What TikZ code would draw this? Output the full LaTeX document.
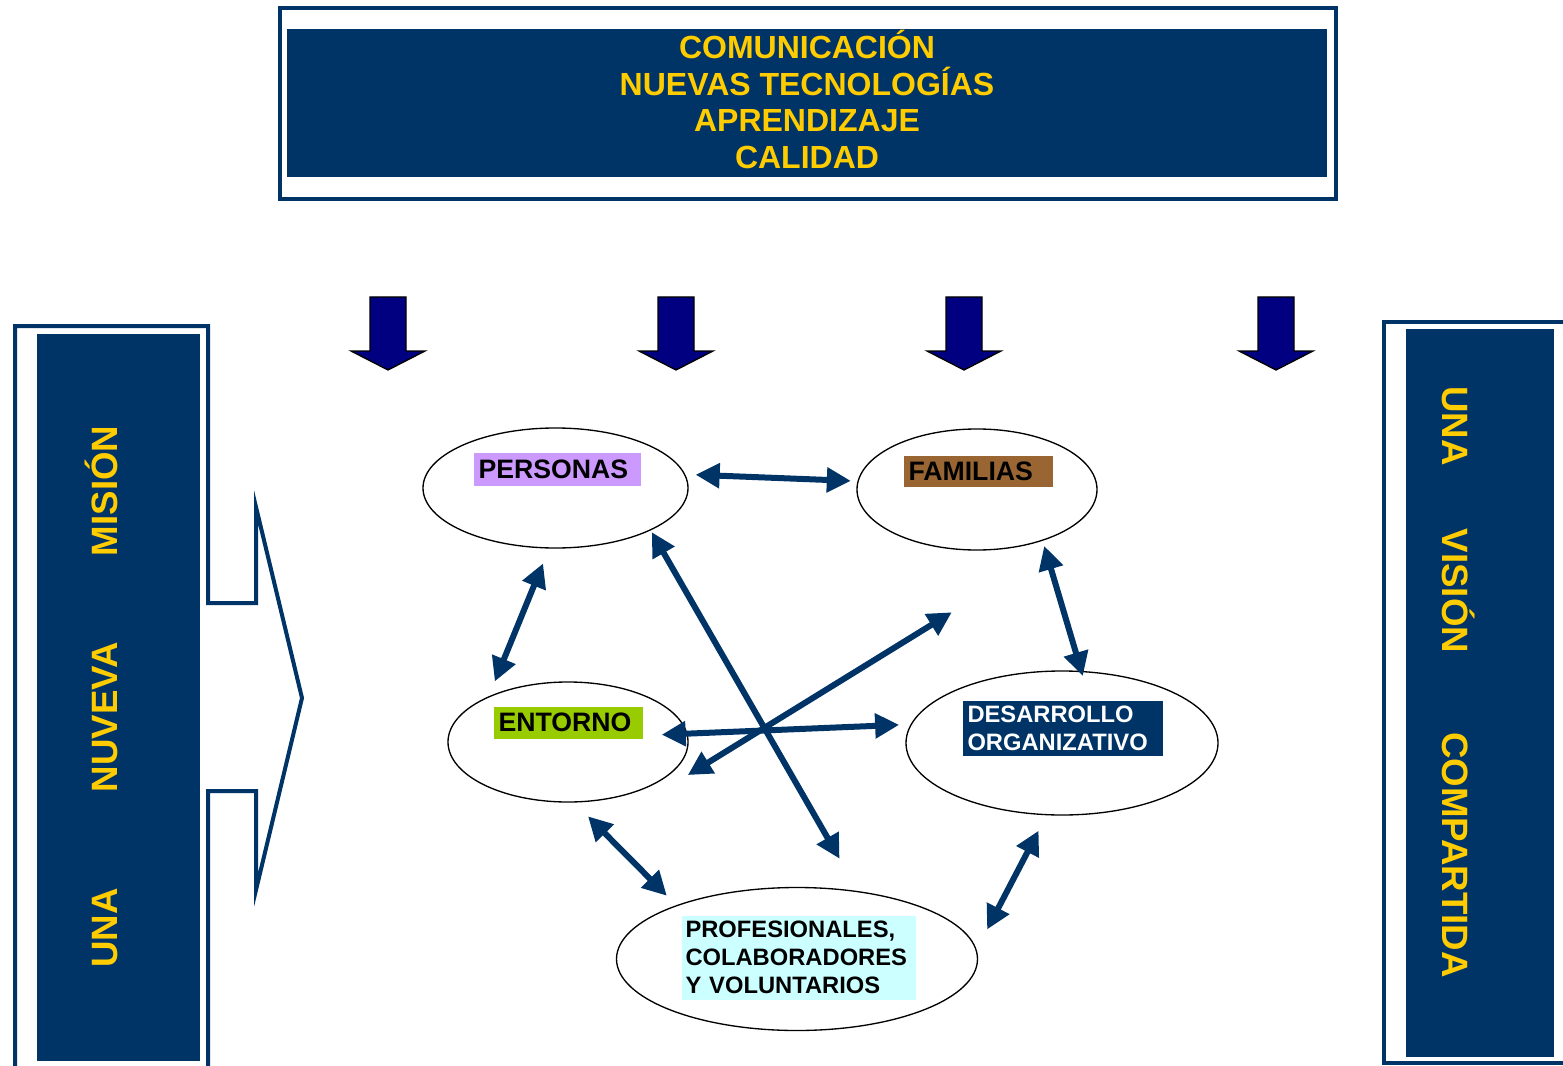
\documentclass[tikz,border=0pt]{standalone}
\usepackage{fontspec}
\setmainfont{Liberation Sans}
\usetikzlibrary{shapes.geometric,arrows.meta,calc}

\definecolor{deepblue}{RGB}{0,51,102}
\definecolor{arrowblue}{RGB}{0,0,128}
\definecolor{yel}{RGB}{255,204,0}
\definecolor{lilac}{RGB}{204,153,255}
\definecolor{brownbox}{RGB}{153,102,51}
\definecolor{limebox}{RGB}{153,204,0}
\definecolor{cyanbox}{RGB}{204,255,255}

\tikzset{every picture/.style={line width=0.75pt}}
\tikzset{
  ell/.style={ellipse, draw=black, line width=1pt, inner sep=0pt},
  lab/.style={anchor=north west, inner xsep=3.75pt, inner ysep=0pt, align=left, font=\bfseries\fontsize{20}{24}\selectfont},
  twolab/.style={lab, font=\bfseries\fontsize{17.8}{21}\selectfont},
  link/.style={draw=deepblue, line width=4.5pt, {Triangle[length=18pt,width=18pt]}-{Triangle[length=18pt,width=18pt]}},
  toptext/.style={text=yel, font=\bfseries\fontsize{24}{28}\selectfont, inner sep=0pt, anchor=base},
  paneltext/.style={text=yel, font=\bfseries\fontsize{27.5}{33}\selectfont, inner sep=0pt, anchor=base},
}

\begin{document}
\begin{tikzpicture}[x=0.75pt,y=0.75pt,yscale=-1,xscale=1]
\useasboundingbox (0,0) rectangle (1563,1066);
\clip (0,0) rectangle (1563,1066);

%Top banner
\draw [deepblue, line width=3pt] (280,8) rectangle (1336,199);
\fill [deepblue] (287,29) rectangle (1327,177);
\foreach \txt [count=\i] in {COMUNICACIÓN,NUEVAS TECNOLOGÍAS,APRENDIZAJE,CALIDAD}
  \node [toptext] (top\i) at (807,{58.5+36.67*(\i-1)}) {\txt};

%Block arrows
\foreach \x in {388,676,964,1276}
  \draw [fill=arrowblue, line width=1pt] (\x-18,297) -- (\x+18,297) -- (\x+18,351) -- (\x+37,351) -- (\x,370) -- (\x-37,351) -- (\x-18,351) -- cycle;

%Left panel
\fill [deepblue] (37,334) rectangle (200,1061);
\draw [deepblue, line width=3pt] (15,1080) -- (15,326) -- (208,326) -- (208,603) -- (256,603) -- (256,507) -- (302,698) -- (256,890) -- (256,791) -- (208,791) -- (208,1080);
\node [paneltext, rotate=90] (mision) at (117,491) {MISIÓN};
\node [paneltext, rotate=90] (nuveva) at (117,717) {NUVEVA};
\node [paneltext, rotate=90] (unaL) at (117,928) {UNA};

%Right panel
\fill [deepblue] (1406,329) rectangle (1554,1057);
\draw [deepblue, line width=3pt] (1600,322) -- (1384,322) -- (1384,1063) -- (1600,1063);
\node [paneltext, rotate=-90] (unaR) at (1442,426) {UNA};
\node [paneltext, rotate=-90] (vision) at (1442,591) {VISIÓN};
\node [paneltext, rotate=-90] (compartida) at (1442,855) {COMPARTIDA};

%Ellipses
\node [ell, minimum width=198.75pt, minimum height=90pt] (pers) at (555.5,488) {};
\node [ell, minimum width=180pt, minimum height=90.75pt] (fam) at (977,489.5) {};
\node [ell, minimum width=180pt, minimum height=90pt] (ent) at (568,742) {};
\node [ell, minimum width=234pt, minimum height=108pt] (dev) at (1062,743) {};
\node [ell, minimum width=270.75pt, minimum height=107.25pt] (vol) at (797,959) {};

%Labels
\node [lab, fill=lilac, text width=117.75pt, minimum height=24.75pt] (perslab) at (473,452) {PERSONAS};
\node [lab, fill=brownbox, text width=104.25pt, minimum height=23.5pt] (famlab) at (903,455) {FAMILIAS};
\node [lab, fill=limebox, text width=104.25pt, minimum height=24pt] (entlab) at (493,706) {ENTORNO};
\node [twolab, fill=deepblue, text=white, text width=142.5pt, minimum height=41.25pt] (devlab) at (962,700) {DESARROLLO\\ORGANIZATIVO};
\node [twolab, fill=cyanbox, inner xsep=3pt, text width=169.5pt, minimum height=63pt] (vollab) at (681,915) {PROFESIONALES,\\COLABORADORES\\Y VOLUNTARIOS};

%Connectors
\coordinate (free) at (951.8,612.3);
\draw [link, shorten <=7.8pt, shorten >=5pt] (pers.6) -- (fam.176);
\draw [link, shorten <=12pt, shorten >=12pt] (pers.264) -- (ent.150);
\draw [link, shorten <=4pt, shorten >=-4pt] (fam.322) -- (dev.75);
\draw [link, shorten <=1.5pt, shorten >=28pt] (pers.336) -- (vol.48);
\draw [link, shorten <=-19.4pt, shorten >=8.6pt] (ent.4) -- (dev.173);
\draw [link] ($(ent.344)+(15,3)$) -- (free);
\draw [link, shorten <=14.5pt, shorten >=10pt] (ent.276) -- (vol.156);
\draw [link, shorten <=17pt, shorten >=13pt] (vol.3) -- (dev.258);

\end{tikzpicture}
\end{document}
